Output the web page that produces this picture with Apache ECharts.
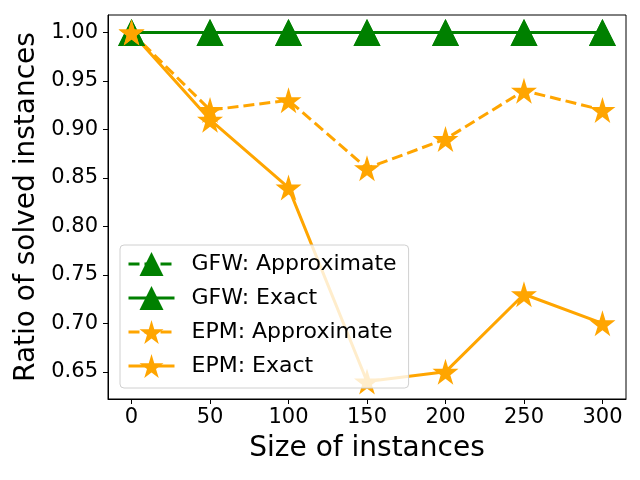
<!DOCTYPE html>
<html>
<head>
    <meta charset="utf-8">
    <title>ECharts</title>
    <script src="https://cdn.jsdelivr.net/npm/echarts@6/dist/echarts.min.js"></script>
</head>
<body style="margin:0">
    <div id="main" style="width: 640px;height: 480px;"></div>
    <script type="text/javascript">
        // data
        var sizes = [0, 50, 100, 150, 200, 250, 300];
        var gfwApprox = [1.00, 1.00, 1.00, 1.00, 1.00, 1.00, 1.00];
        var gfwExact = [1.00, 1.00, 1.00, 1.00, 1.00, 1.00, 1.00];
        var epmApprox = [1.00, 0.92, 0.93, 0.86, 0.89, 0.94, 0.92];
        var epmExact = [1.00, 0.91, 0.84, 0.64, 0.65, 0.73, 0.70];
        var xTicks = [0, 50, 100, 150, 200, 250, 300];
        var yTicks = [0.65, 0.70, 0.75, 0.80, 0.85, 0.90, 0.95, 1.00];

        var font = 'DejaVu Sans';
        var green = '#008000';
        var orange = '#ffa500';
        var star = 'path://M50,0 L61,35 L98,35 L68,57 L79,91 L50,70 L21,91 L32,57 L2,35 L39,35 Z';

        function pairs(vals) {
            return sizes.map(function (s, i) { return [s, vals[i]]; });
        }

        function makeSeries(name, vals, color, dashed, symbol, size) {
            return {
                name: name,
                type: 'line',
                data: pairs(vals),
                symbol: symbol,
                symbolSize: size,
                showAllSymbol: true,
                itemStyle: { color: color },
                lineStyle: { color: color, width: 3, type: dashed ? [11, 5] : 'solid' },
                emphasis: { disabled: true },
                animation: false
            };
        }

        var myChart = echarts.init(document.getElementById('main'));

        var option = {
            backgroundColor: '#fff',
            grid: { left: 108, right: 14, top: 15, bottom: 81, show: true, borderColor: '#000', borderWidth: 1, backgroundColor: 'transparent' },
            legend: {
                left: 120, top: 245, z: 10,
                orient: 'vertical',
                itemWidth: 46, itemHeight: 30, itemGap: 10,
                padding: [7, 12, 10, 7],
                backgroundColor: 'rgba(255,255,255,0.8)',
                borderColor: '#d0d0d0', borderWidth: 1, borderRadius: 4,
                lineStyle: { width: 3 },
                textStyle: { fontFamily: font, fontSize: 22, color: '#000', padding: [0, 0, 0, 12] },
                data: ['GFW: Approximate', 'GFW: Exact', 'EPM: Approximate', 'EPM: Exact']
            },
            xAxis: {
                type: 'value', min: -15, max: 315,
                name: 'Size of instances', nameLocation: 'middle', nameGap: 36,
                nameTextStyle: { fontFamily: font, fontSize: 28, color: '#000' },
                axisLine: { show: true, onZero: false, lineStyle: { color: '#000' } },
                axisTick: { show: true, length: 5, lineStyle: { color: '#000' }, customValues: xTicks },
                axisLabel: { fontFamily: font, fontSize: 21, color: '#000', margin: 8, customValues: xTicks },
                splitLine: { show: false }
            },
            yAxis: {
                type: 'value', min: 0.622, max: 1.018,
                name: 'Ratio of solved instances', nameLocation: 'middle', nameGap: 66,
                nameTextStyle: { fontFamily: font, fontSize: 28, color: '#000' },
                axisLine: { show: true, onZero: false, lineStyle: { color: '#000' } },
                axisTick: { show: true, length: 5, lineStyle: { color: '#000' }, customValues: yTicks },
                axisLabel: {
                    fontFamily: font, fontSize: 21, color: '#000', margin: 10, customValues: yTicks,
                    formatter: function (v) { return v.toFixed(2); }
                },
                splitLine: { show: false }
            },
            series: [
                makeSeries('GFW: Approximate', gfwApprox, green, true, 'triangle', 27),
                makeSeries('GFW: Exact', gfwExact, green, false, 'triangle', 27),
                makeSeries('EPM: Approximate', epmApprox, orange, true, star, 26),
                makeSeries('EPM: Exact', epmExact, orange, false, star, 26)
            ]
        };

        myChart.setOption(option);
    </script>
</body>
</html>
